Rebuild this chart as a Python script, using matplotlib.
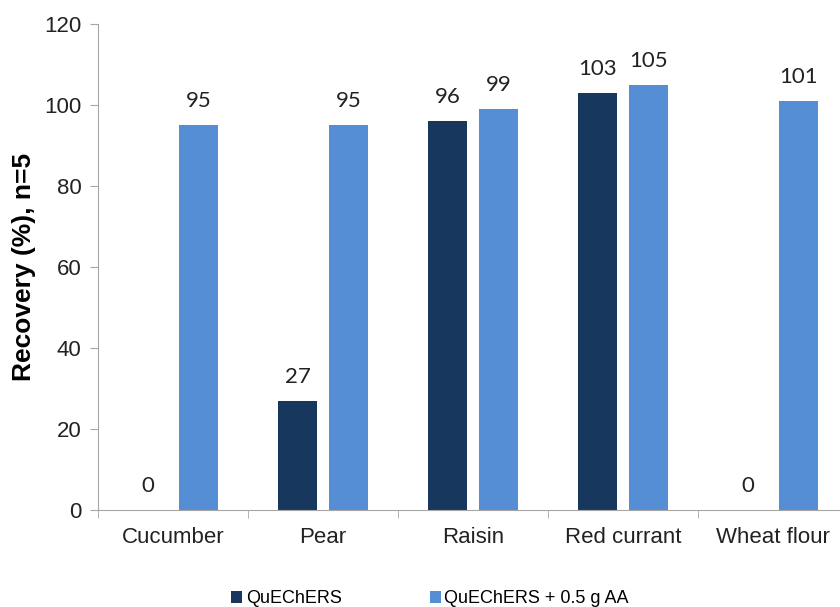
import numpy as np
import matplotlib.pyplot as plt

# recovery data per matrix
matrices = ["Cucumber", "Pear", "Raisin", "Red currant", "Wheat flour"]
quechers = [0, 27, 96, 103, 0]
quechers_aa = [95, 95, 99, 105, 101]
series_names = ["QuEChERS", "QuEChERS + 0.5 g AA"]

dark = "#17375E"
light = "#558ED5"
grey = "#A6A6A6"

fig = plt.figure(figsize=(8.4, 6.07), dpi=100)
ax = fig.add_axes([0.1167, 0.1598, 0.8928, 0.8007])

x = np.arange(len(matrices))
w = 0.26
off = 0.17
b1 = ax.bar(x - off, quechers, w, color=dark, label=series_names[0])
b2 = ax.bar(x + off, quechers_aa, w, color=light, label=series_names[1])

# value labels above each bar
for bars, vals in [(b1, quechers), (b2, quechers_aa)]:
    for rect, v in zip(bars, vals):
        ax.annotate(f"{v:.0f}", (rect.get_x() + rect.get_width() / 2, v),
                    xytext=(0, 10), textcoords="offset points",
                    ha="center", va="bottom", fontsize=16,
                    family="Lato", color="#222222")

ax.set_xlim(-0.5, 4.5)
ax.set_ylim(0, 120)
ax.set_yticks(range(0, 121, 20))
ax.set_xticks(x)
ax.set_xticklabels(matrices)
ax.set_xticks(np.arange(-0.5, 5, 1), minor=True)
ax.tick_params(axis="x", which="major", length=0, pad=12)
ax.tick_params(axis="x", which="minor", length=6, color=grey)
ax.tick_params(axis="y", length=6, color=grey, pad=6)
for lab in ax.get_xticklabels() + ax.get_yticklabels():
    lab.set_family("Liberation Sans")
    lab.set_fontsize(16)
    lab.set_color("#222222")

for s in ["top", "right"]:
    ax.spines[s].set_visible(False)
for s in ["left", "bottom"]:
    ax.spines[s].set_color(grey)

ax.set_ylabel("Recovery (%), n=5", fontsize=19, fontweight="bold",
              family="Liberation Sans", labelpad=6)

fig.legend(handles=[b1, b2], loc="upper center", bbox_to_anchor=(0.512, 0.054),
           ncol=2, frameon=False, handlelength=0.6, handleheight=0.6,
           handletextpad=0.2, columnspacing=4.9,
           prop={"family": "Liberation Sans", "size": 13})

fig.savefig("out.png", dpi=100)
